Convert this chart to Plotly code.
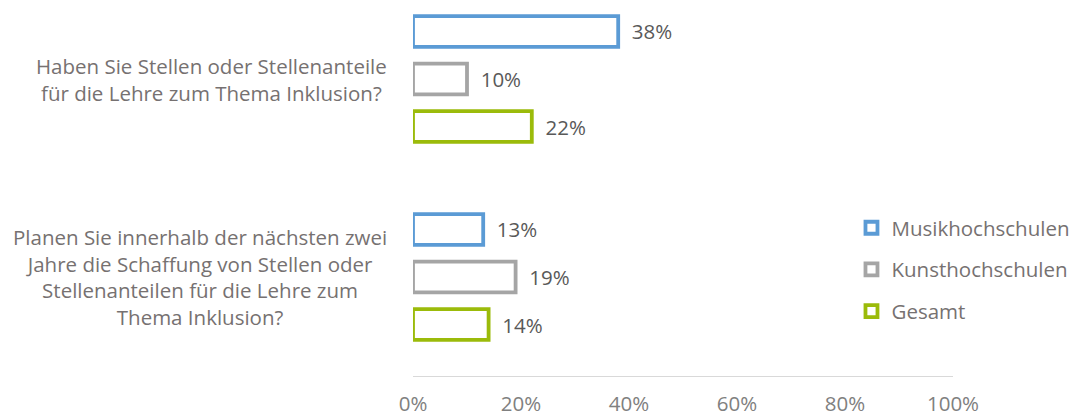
import plotly.graph_objects as go

categories = [
    "Haben Sie Stellen oder Stellenanteile<br>für die Lehre zum Thema Inklusion?",
    "Planen Sie innerhalb der nächsten zwei<br>Jahre die Schaffung von Stellen oder<br>Stellenanteilen für die Lehre zum<br>Thema Inklusion?",
]
series_names = ["Musikhochschulen", "Kunsthochschulen", "Gesamt"]
musik = [0.38, 0.13]
kunst = [0.10, 0.19]
gesamt = [0.22, 0.14]
values = [musik, kunst, gesamt]
colors = ["#5B9BD5", "#A5A5A5", "#9BBB0A"]
tick_vals = [0, 0.2, 0.4, 0.6, 0.8, 1.0]
tick_text = ["0%", "20%", "40%", "60%", "80%", "100%"]

FONT = "Open Sans"
fig = go.Figure()
for i, (name, vals, col) in enumerate(zip(series_names, values, colors)):
    fig.add_trace(go.Bar(
        y=list(range(len(categories))), x=vals, name=name, orientation="h",
        marker=dict(color="white", line=dict(color=col, width=3.8)),
        text=[f"{round(v*100)}%" for v in vals],
        textposition="outside",
        texttemplate="  %{text}",
        textfont=dict(family=FONT, size=20.5, color="#595959"),
        cliponaxis=False,
        legendgroup=name,
    ))

for j, cat in enumerate(categories):
    fig.add_annotation(
        x=0, xref="paper", y=j, yref="y", text=cat, showarrow=False,
        xanchor="right", xshift=-24, align="center",
        font=dict(family=FONT, size=20.5, color="#767171"),
    )

fig.update_layout(
    width=1072, height=416,
    margin=dict(l=413, r=119, t=0, b=40, autoexpand=False),
    plot_bgcolor="white", paper_bgcolor="white",
    barmode="group", bargap=0.28, bargroupgap=0.35,
    showlegend=True,
    legend=dict(
        x=0.812, xanchor="left", y=0.447, yanchor="top",
        font=dict(family=FONT, size=20.5, color="#767171"),
        traceorder="grouped", tracegroupgap=12,
        bgcolor="rgba(0,0,0,0)",
    ),
    xaxis=dict(
        range=[0, 1], tickvals=tick_vals, ticktext=tick_text,
        showgrid=False, zeroline=False, showline=True, linecolor="#D9D9D9", linewidth=1.3,
        tickfont=dict(family=FONT, size=20.5, color="#808080"),
        ticks="", ticklabelstandoff=9,
    ),
    yaxis=dict(
        range=[1.5, -0.399], showticklabels=False, showgrid=False, zeroline=False,
        showline=False, ticks="",
    ),
)

fig.write_html("out.html", config={"displayModeBar": False},
               post_script="document.body.style.margin='0';")
